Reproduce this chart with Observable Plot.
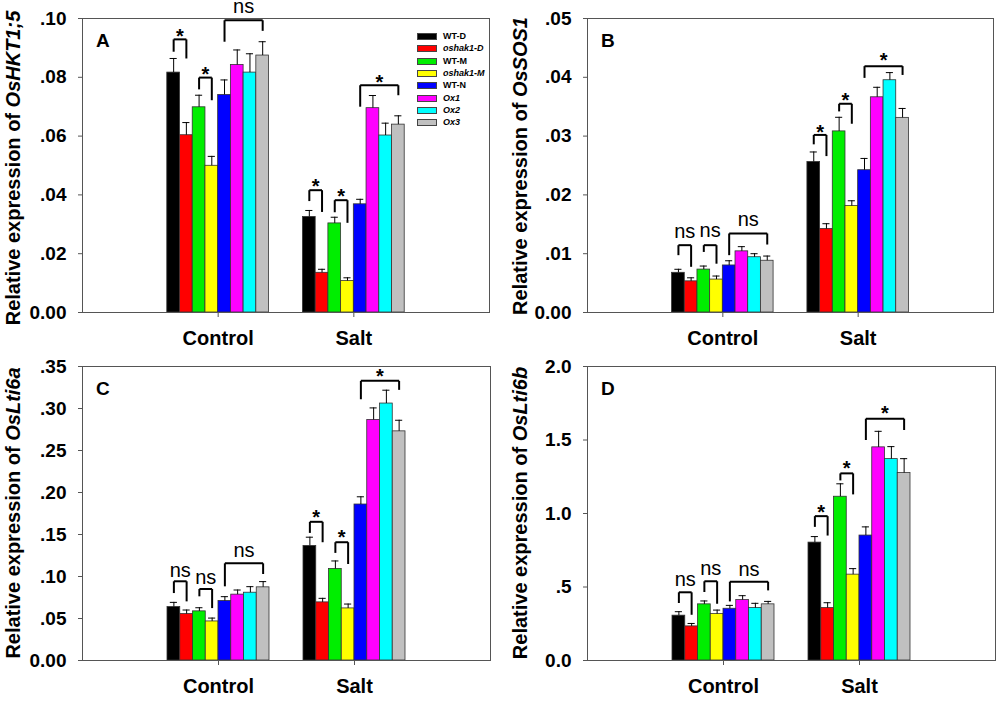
<!DOCTYPE html>
<html>
<head>
<meta charset="utf-8">
<script src="https://cdn.jsdelivr.net/npm/d3@7"></script>
<script src="https://cdn.jsdelivr.net/npm/@observablehq/plot@0.6"></script>
<style>
  body { margin: 0; background: #fff; font-family: "Liberation Sans", Arial, sans-serif; }
  #root { position: relative; width: 1000px; height: 704px; overflow: hidden; background: #fff; }
  .panel { position: absolute; width: 500px; height: 352px; }
  .panel svg { position: absolute; left: 0; top: 0; overflow: visible; }
  .ylab { position: absolute; transform: translate(-50%, -50%) rotate(-90deg); white-space: nowrap; font-weight: bold; font-size: 20px; color: #000; }
  .letter { position: absolute; font-weight: bold; font-size: 19px; line-height: 1; color: #000; }
  .legend { position: absolute; font-size: 9px; font-weight: bold; color: #000; }
  .legend .row { position: absolute; left: 0; white-space: nowrap; height: 8px; }
  .legend .sw { position: absolute; left: 0; top: 0; width: 20px; height: 7px; border: 0.5px solid #444; box-sizing: border-box; }
  .legend .lb { position: absolute; left: 26px; top: -2px; line-height: 11px; }
</style>
</head>
<body>
<div id="root"></div>
<script>
// ---------------- data ----------------
const conditions = ["Control", "Salt"];
const genotypes = ["WT-D", "oshak1-D", "WT-M", "oshak1-M", "WT-N", "Ox1", "Ox2", "Ox3"];
const italicGeno = [false, true, false, true, false, true, true, true];
const genoColors = ["#000000", "#ff0000", "#00ee00", "#ffff00", "#0000ff", "#ff00ff", "#00ffff", "#c0c0c0"];

// Panel A: OsHKT1;5
const hktControl = [0.0816, 0.0603, 0.0698, 0.0499, 0.0740, 0.0842, 0.0816, 0.0874];
const hktControlErr = [0.0048, 0.0043, 0.0041, 0.0032, 0.0051, 0.0051, 0.0064, 0.0047];
const hktSalt = [0.0325, 0.0135, 0.0303, 0.0107, 0.0368, 0.0695, 0.0602, 0.0639];
const hktSaltErr = [0.0022, 0.0012, 0.0021, 0.0011, 0.0017, 0.0043, 0.0042, 0.0030];
const hktTicks = [0, 0.02, 0.04, 0.06, 0.08, 0.10];
// brackets: condition, from index, to index, top, left leg end, right leg end, label, label y
const hktBrackets = [
  ["Control", 0, 1, 0.0929, 0.0887, 0.0864, "*", 0.0960],
  ["Control", 2, 3, 0.0799, 0.0759, 0.0722, "*", 0.0830],
  ["Control", 4, 7, 0.0994, 0.0921, 0.0958, "ns", 0.1037],
  ["Salt", 0, 1, 0.0416, 0.0379, 0.0342, "*", 0.0447],
  ["Salt", 2, 3, 0.0382, 0.0341, 0.0305, "*", 0.0414],
  ["Salt", 4, 7, 0.0773, 0.0700, 0.0739, "*", 0.0804]
];

// Panel B: OsSOS1
const sosControl = [0.00675, 0.0053, 0.0073, 0.0056, 0.0080, 0.0104, 0.0094, 0.0088];
const sosControlErr = [0.0006, 0.0006, 0.0006, 0.0006, 0.0008, 0.0008, 0.0006, 0.0008];
const sosSalt = [0.0256, 0.0142, 0.0308, 0.0181, 0.0242, 0.0366, 0.0395, 0.0331];
const sosSaltErr = [0.0017, 0.0009, 0.0024, 0.0009, 0.0020, 0.0017, 0.0013, 0.0016];
const sosTicks = [0, 0.01, 0.02, 0.03, 0.04, 0.05];
const sosBrackets = [
  ["Control", 0, 1, 0.01145, 0.00975, 0.00777, "ns", 0.01355],
  ["Control", 2, 3, 0.01145, 0.0103, 0.0083, "ns", 0.0138],
  ["Control", 4, 7, 0.01344, 0.00975, 0.01156, "ns", 0.0156],
  ["Salt", 0, 1, 0.0302, 0.0286, 0.0266, "*", 0.0317],
  ["Salt", 2, 3, 0.0355, 0.0342, 0.0321, "*", 0.0371],
  ["Salt", 4, 7, 0.0419, 0.0399, 0.0404, "*", 0.0438]
];

// Panel C: OsLti6a
const lti6aControl = [0.0636, 0.0553, 0.0585, 0.0465, 0.0708, 0.0784, 0.0807, 0.0871];
const lti6aControlErr = [0.0056, 0.0048, 0.0043, 0.0040, 0.0052, 0.0055, 0.0072, 0.0068];
const lti6aSalt = [0.1364, 0.0692, 0.1090, 0.0620, 0.1857, 0.2864, 0.3059, 0.2728];
const lti6aSaltErr = [0.0104, 0.0048, 0.0095, 0.0052, 0.0092, 0.0143, 0.0159, 0.0132];
const lti6aTicks = [0, 0.05, 0.10, 0.15, 0.20, 0.25, 0.30, 0.35];
const lti6aBrackets = [
  ["Control", 0, 1, 0.0943, 0.0803, 0.0704, "ns", 0.1062],
  ["Control", 2, 3, 0.0851, 0.0764, 0.0624, "ns", 0.0978],
  ["Control", 4, 7, 0.1157, 0.0883, 0.1030, "ns", 0.1297],
  ["Salt", 0, 1, 0.1651, 0.1519, 0.1408, "*", 0.1770],
  ["Salt", 2, 3, 0.1408, 0.1281, 0.1149, "*", 0.1531],
  ["Salt", 4, 7, 0.3329, 0.3110, 0.3222, "*", 0.3448]
];

// Panel D: OsLti6b
const lti6bControl = [0.305, 0.232, 0.382, 0.316, 0.352, 0.411, 0.357, 0.382];
const lti6bControlErr = [0.027, 0.020, 0.023, 0.027, 0.023, 0.030, 0.032, 0.020];
const lti6bSalt = [0.802, 0.357, 1.114, 0.584, 0.850, 1.450, 1.370, 1.275];
const lti6bSaltErr = [0.041, 0.036, 0.088, 0.041, 0.059, 0.109, 0.085, 0.098];
const lti6bTicks = [0, 0.5, 1.0, 1.5, 2.0];
const lti6bBrackets = [
  ["Control", 0, 1, 0.464, 0.391, 0.311, "ns", 0.543],
  ["Control", 2, 3, 0.539, 0.466, 0.386, "ns", 0.618],
  ["Control", 4, 7, 0.536, 0.402, 0.477, "ns", 0.614],
  ["Salt", 0, 1, 0.982, 0.909, 0.850, "*", 1.045],
  ["Salt", 2, 3, 1.273, 1.225, 1.130, "*", 1.345],
  ["Salt", 4, 7, 1.645, 1.500, 1.568, "*", 1.720]
];

// ---------------- drawing ----------------
const root = document.getElementById("root");
const GROUP = 0.75;                       // share of a category slot taken by its group of bars
const BARW = GROUP / genotypes.length;     // width of one bar in category units
const CAP = 0.28;                          // half width of error caps, in bar widths

// centre of a bar, in category units: condition slots sit at 1 and 2
function barCenter(cond, gi) {
  return conditions.indexOf(cond) + 1 + (gi - (genotypes.length - 1) / 2) * BARW;
}

function fmtTick(decimals) {
  return d => d === 0 ? (0).toFixed(decimals) : d.toFixed(decimals).replace(/^0/, "");
}

function makePanel(cfg) {
  const rows = [];
  conditions.forEach((c, ci) => genotypes.forEach((g, gi) => rows.push({
    cond: c, geno: g, gi, value: cfg.values[ci][gi], err: cfg.errs[ci][gi],
    top: cfg.values[ci][gi] + cfg.errs[ci][gi], xc: barCenter(c, gi)
  })));
  const br = cfg.brackets.map(b => ({
    cond: b[0], xa: barCenter(b[0], b[1]), xb: barCenter(b[0], b[2]),
    top: b[3], leftEnd: b[4], rightEnd: b[5], label: b[6], ly: b[7]
  }));
  const segs = br.flatMap(b => [
    {xa: b.xa, xb: b.xb, ya: b.top, yb: b.top},
    {xa: b.xa, xb: b.xa, ya: b.top, yb: b.leftEnd},
    {xa: b.xb, xb: b.xb, ya: b.top, yb: b.rightEnd}
  ]);
  const stars = br.filter(b => b.label === "*");
  const nss = br.filter(b => b.label !== "*");

  const plot = Plot.plot({
    width: cfg.width, height: cfg.height,
    marginLeft: cfg.ml, marginRight: cfg.mr, marginTop: cfg.mt, marginBottom: cfg.mb,
    style: {fontFamily: "'Liberation Sans', Arial, sans-serif", background: "transparent", overflow: "visible"},
    x: {domain: [0, conditions.length + 1], axis: null},
    y: {domain: [0, cfg.ymax], axis: null},
    color: {domain: genotypes, range: genoColors},
    marks: [
      Plot.rectY(rows, {x1: d => d.xc - BARW / 2, x2: d => d.xc + BARW / 2, y1: 0, y2: "value",
        fill: "geno", stroke: "#333", strokeWidth: 0.8}),
      Plot.ruleX(rows, {x: "xc", y1: "value", y2: "top", stroke: "#000", strokeWidth: 1}),
      Plot.ruleY(rows, {y: "top", x1: d => d.xc - CAP * BARW, x2: d => d.xc + CAP * BARW, stroke: "#000", strokeWidth: 1}),
      Plot.link(segs, {x1: "xa", x2: "xb", y1: "ya", y2: "yb", stroke: "#000", strokeWidth: 2}),
      Plot.text(stars, {x: d => (d.xa + d.xb) / 2, y: "ly", text: "label", fontSize: 20, fontWeight: "bold", dy: 6, fill: "#000"}),
      Plot.text(nss, {x: d => (d.xa + d.xb) / 2, y: "ly", text: "label", fontSize: 20, dy: -1, fill: "#000"}),
      Plot.axisY({ticks: cfg.ticks, tickFormat: fmtTick(cfg.decimals), tickSize: 4, tickPadding: 12,
        label: null, fontSize: 19, fontWeight: "bold", stroke: "#555"}),
      Plot.axisX({anchor: "bottom", ticks: d3.range(1, conditions.length + 1), tickFormat: i => conditions[i - 1],
        tickSize: 5, tickPadding: 13, label: null, fontSize: 20, fontWeight: "bold", stroke: "#555"}),
      Plot.frame({stroke: "#555", strokeWidth: 1})
    ]
  });

  const div = document.createElement("div");
  div.className = "panel";
  div.style.left = cfg.left + "px";
  div.style.top = cfg.top + "px";
  div.appendChild(plot);

  const ylab = document.createElement("div");
  ylab.className = "ylab";
  ylab.style.left = cfg.ylabX + "px";
  ylab.style.top = cfg.ylabY + "px";
  ylab.innerHTML = "Relative expression of <i>" + cfg.gene + "</i>";
  div.appendChild(ylab);

  const letter = document.createElement("div");
  letter.className = "letter";
  letter.style.left = (cfg.ml + 14) + "px";
  letter.style.top = (cfg.mt + 13) + "px";
  letter.textContent = cfg.letter;
  div.appendChild(letter);

  if (cfg.legend) {
    const lg = document.createElement("div");
    lg.className = "legend";
    lg.style.left = cfg.legend[0] + "px";
    lg.style.top = cfg.legend[1] + "px";
    genotypes.forEach((g, i) => {
      const row = document.createElement("div");
      row.className = "row";
      row.style.top = (i * 12.3) + "px";
      const sw = document.createElement("div");
      sw.className = "sw";
      sw.style.background = genoColors[i];
      const lb = document.createElement("div");
      lb.className = "lb";
      lb.textContent = g;
      if (italicGeno[i]) lb.style.fontStyle = "italic";
      row.appendChild(sw);
      row.appendChild(lb);
      lg.appendChild(row);
    });
    div.appendChild(lg);
  }
  root.appendChild(div);
}

makePanel({left: 0, top: 0, width: 500, height: 352, ml: 82, mr: 11, mt: 18, mb: 40,
  values: [hktControl, hktSalt], errs: [hktControlErr, hktSaltErr], ticks: hktTicks, ymax: 0.10, decimals: 2,
  brackets: hktBrackets, gene: "OsHKT1;5", letter: "A", ylabX: 13, ylabY: 168, legend: [417, 33]});
makePanel({left: 500, top: 0, width: 500, height: 352, ml: 87, mr: 7, mt: 18, mb: 40,
  values: [sosControl, sosSalt], errs: [sosControlErr, sosSaltErr], ticks: sosTicks, ymax: 0.05, decimals: 2,
  brackets: sosBrackets, gene: "OsSOS1", letter: "B", ylabX: 20, ylabY: 166});
makePanel({left: 0, top: 352, width: 500, height: 352, ml: 82, mr: 10, mt: 14, mb: 44,
  values: [lti6aControl, lti6aSalt], errs: [lti6aControlErr, lti6aSaltErr], ticks: lti6aTicks, ymax: 0.35, decimals: 2,
  brackets: lti6aBrackets, gene: "OsLti6a", letter: "C", ylabX: 13, ylabY: 161});
makePanel({left: 500, top: 352, width: 500, height: 352, ml: 87, mr: 5, mt: 14, mb: 44,
  values: [lti6bControl, lti6bSalt], errs: [lti6bControlErr, lti6bSaltErr], ticks: lti6bTicks, ymax: 2.0, decimals: 1,
  brackets: lti6bBrackets, gene: "OsLti6b", letter: "D", ylabX: 20, ylabY: 161});
</script>
</body>
</html>
